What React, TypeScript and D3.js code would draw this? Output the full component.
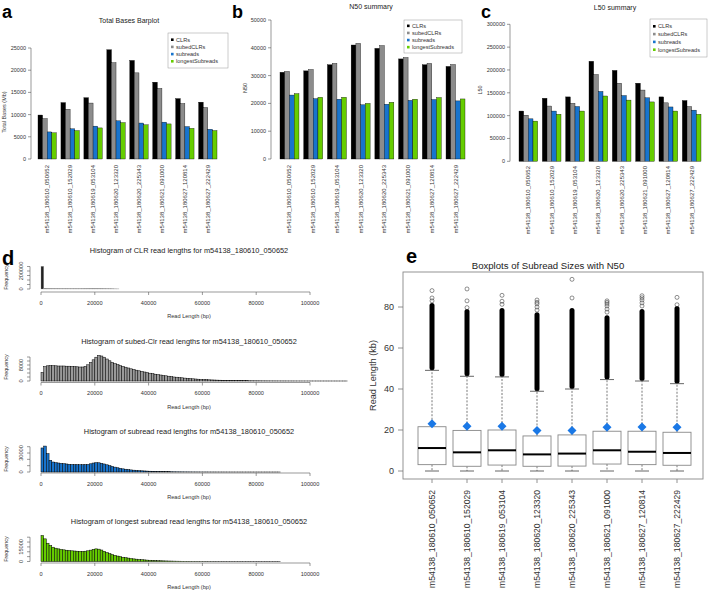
import React from "react";
import * as d3 from "d3";

const FONT = "'Liberation Sans', Arial, Helvetica, sans-serif";

const samples = [
  "m54138_180610_050652", "m54138_180610_152029", "m54138_180619_053104", "m54138_180620_123320",
  "m54138_180620_225343", "m54138_180621_091000", "m54138_180627_120814", "m54138_180627_222429",
];
const seriesNames = ["CLRs", "subedCLRs", "subreads", "longestSubreads"];
const seriesColors = ["#000000", "#8c8c8c", "#1874CD", "#66CD00"];

// Panel a: total bases (Mb)
const totalCLR = [9900, 12700, 13800, 24600, 22200, 17300, 13600, 12800];
const totalSubedCLR = [9100, 11200, 12600, 21700, 19400, 15900, 12500, 11600];
const totalSubreads = [6100, 6800, 7400, 8600, 8100, 8300, 7300, 6700];
const totalLongest = [5900, 6400, 7000, 8200, 7700, 7900, 6900, 6400];
const totalTicks = [0, 5000, 10000, 15000, 20000, 25000];

// Panel b: N50
const n50CLR = [31200, 31700, 33900, 41000, 39800, 36000, 33900, 33300];
const n50SubedCLR = [31500, 32200, 34400, 41600, 40800, 36500, 34400, 34000];
const n50Subreads = [23000, 21700, 21500, 19500, 19700, 21100, 21400, 20900];
const n50Longest = [23500, 22200, 22200, 20000, 20400, 21500, 22100, 21600];
const n50Ticks = [0, 10000, 20000, 30000, 40000, 50000];

// Panel c: L50
const l50CLR = [110000, 138000, 141000, 219000, 199000, 171000, 141000, 133000];
const l50SubedCLR = [101000, 121000, 127000, 190000, 171000, 156000, 128000, 120000];
const l50Subreads = [93000, 110000, 120000, 153000, 144000, 139000, 119000, 112000];
const l50Longest = [88000, 103000, 110000, 143000, 134000, 130000, 110000, 103000];
const l50Ticks = [0, 50000, 100000, 150000, 200000, 250000, 300000];

// Panel d: histograms (1000 bp bins)
const histClr = [252000, 6000, 5000, 4500, 4200, 4000, 3800, 3700, 3600, 3500, 3400, 3300, 3300, 3200, 3300, 3500, 3900, 4300, 4600, 4800, 4700, 4400, 4000, 3500, 3000, 2500, 2000, 1500, 1000];
const histSubedClr = [4300, 7200, 7600, 7700, 7700, 7600, 7500, 7500, 7500, 7400, 7400, 7300, 7200, 7100, 7000, 7000, 7300, 8100, 9300, 10600, 11900, 12800, 12500, 11900, 11000, 10100, 9300, 8700, 8200, 7700, 7300, 6900, 6500, 6100, 5800, 5400, 5100, 4800, 4500, 4200, 3900, 3700, 3400, 3200, 3000, 2800, 2600, 2400, 2200, 2000, 1900, 1700, 1600, 1450, 1300, 1200, 1100, 1000, 900, 820, 740, 670, 600, 540, 490, 440, 400, 360, 320, 290, 260, 230, 210, 190, 170, 150, 135, 120, 110, 100, 90, 80, 70, 62, 55, 50, 45, 40, 36, 32, 29, 26, 23, 21, 19, 17, 15, 13, 12, 11, 10, 9, 8, 7, 6, 6, 5, 5, 4, 4, 3, 3, 2, 2];
const histSubreads = [38000, 41000, 29000, 18500, 15800, 14700, 14200, 13700, 13200, 12700, 12200, 11900, 11700, 11600, 11500, 11500, 11600, 12000, 13000, 14200, 14800, 14600, 13800, 12700, 11400, 10000, 8800, 7700, 6700, 5800, 5000, 4400, 3800, 3300, 2900, 2500, 2200, 1900, 1650, 1450, 1250, 1100, 950, 820, 700, 600, 520, 450, 390, 340, 290, 250, 220, 190, 165, 145, 125, 110, 95, 82, 72, 62, 54, 47, 41, 36, 31, 27, 23, 20, 17, 15, 13, 11, 10, 9, 8, 7, 6, 5, 4, 4, 3, 3, 2, 2, 2, 1, 1];
const histLongest = [26700, 23300, 18800, 16400, 14700, 13700, 13000, 12400, 12000, 11600, 11300, 11000, 10800, 10600, 10500, 10400, 10600, 11000, 11700, 12500, 13000, 12700, 11800, 10500, 9200, 8100, 7100, 6300, 5600, 5000, 4400, 3900, 3500, 3100, 2700, 2400, 2100, 1850, 1650, 1450, 1300, 1150, 1000, 880, 770, 670, 590, 510, 450, 390, 340, 300, 260, 225, 195, 170, 150, 130, 112, 97, 84, 73, 63, 55, 48, 41, 36, 31, 27, 23, 20, 17, 15, 13, 11, 10, 8, 7, 6, 5, 5, 4, 3, 3, 2, 2, 2, 1, 1];
const histXTicks = [0, 20000, 40000, 60000, 80000, 100000];

// Panel e: boxplots (kb)
const boxQ1 = [3.1, 2.3, 2.9, 2.3, 2.4, 3.4, 3.1, 2.8];
const boxMedian = [11.2, 9.1, 10.1, 8.1, 8.5, 10.1, 9.4, 8.8];
const boxQ3 = [21.6, 19.8, 20.0, 17.1, 17.6, 19.4, 19.4, 18.9];
const boxWhiskerHi = [49.1, 46.2, 45.9, 38.9, 40.0, 44.6, 43.9, 42.6];
const boxWhiskerLo = [0, 0, 0, 0, 0, 0, 0, 0];
const boxOutlierTop = [82, 79, 79.5, 77.5, 79.5, 76, 79, 80.5];
const boxSparseOutliers = [
  [83, 84.4, 88],
  [79.7, 83, 88.8],
  [81.3, 82.8, 85.7],
  [78.5, 80, 81.5, 82.3, 83.4],
  [84.4, 93.5],
  [77.5, 79, 80.5, 81.5, 82.3, 83],
  [80.5, 82, 83.4, 84.5, 85.5],
  [81.1, 84.7],
];
const boxN50 = [23.1, 21.8, 21.8, 19.7, 19.8, 21.3, 21.5, 21.3];
const boxTicks = [0, 20, 40, 60, 80];

type BarPanelProps = {
  series: number[][];
  ticks: number[];
  x0: number; x1: number;
  yBottom: number; yTop: number;
  axisX: number;
  title: string; titleX: number; titleY: number;
  ylab: string; ylabX: number; ylabY: number;
  legendX: number; legendY: number; legendW: number; legendH: number; legendStep: number;
  labelTop: number;
};

function BarPanel(p: BarPanelProps) {
  const xg = d3.scaleBand<string>().domain(samples).range([p.x0, p.x1]).paddingInner(0.2).paddingOuter(0);
  const xs = d3.scaleBand<string>().domain(seriesNames).range([0, xg.bandwidth()]).padding(0);
  const y = d3.scaleLinear().domain([0, p.ticks[p.ticks.length - 1]]).range([p.yBottom, p.yTop]);
  return (
    <g>
      <text x={p.titleX} y={p.titleY} fontSize={7} textAnchor="middle" dominantBaseline="central" fill="#222">{p.title}</text>
      {samples.map((s, i) => (
        <g key={s}>
          {seriesNames.map((n, j) => (
            <rect key={n} x={xg(s)! + xs(n)!} width={xs.bandwidth()} y={y(p.series[j][i])}
              height={y(0) - y(p.series[j][i])} fill={seriesColors[j]} stroke="#000" strokeWidth={0.35} />
          ))}
          <text transform={`translate(${xg(s)! + xg.bandwidth() / 2},${p.labelTop}) rotate(-90)`}
            fontSize={6} textAnchor="end" dominantBaseline="central" fill="#333">{s}</text>
        </g>
      ))}
      <line x1={p.axisX} x2={p.axisX} y1={y(0)} y2={y(p.ticks[p.ticks.length - 1])} stroke="#555" strokeWidth={0.6} />
      {p.ticks.map((t) => (
        <g key={t}>
          <line x1={p.axisX - 3} x2={p.axisX} y1={y(t)} y2={y(t)} stroke="#555" strokeWidth={0.6} />
          <text x={p.axisX - 5} y={y(t)} fontSize={5.5} textAnchor="end" dominantBaseline="central" fill="#333">{t}</text>
        </g>
      ))}
      <text transform={`translate(${p.ylabX},${p.ylabY}) rotate(-90)`} fontSize={5.5} textAnchor="middle" dominantBaseline="central" fill="#333">{p.ylab}</text>
      <rect x={p.legendX} y={p.legendY} width={p.legendW} height={p.legendH} fill="#fff" stroke="#999" strokeWidth={0.5} />
      {seriesNames.map((n, j) => {
        const cy = p.legendY + p.legendH / 2 + (j - 1.5) * p.legendStep;
        return (
          <g key={n}>
            <rect x={p.legendX + 3} y={cy - 1.3} width={2.6} height={2.6} fill={seriesColors[j]} />
            <text x={p.legendX + 8} y={cy} fontSize={5.6} dominantBaseline="central" fill="#333">{n}</text>
          </g>
        );
      })}
    </g>
  );
}

type HistProps = {
  data: number[];
  fill: string;
  title: string; titleY: number;
  baseline: number; yMax: number; yTopPx: number;
  yTicks: number[]; yLabels: number[];
  axisY: number; tickLabelY: number; xlabY: number; freqY: number;
  stroke: string; strokeWidth: number;
};

function Hist(p: HistProps) {
  const x = d3.scaleLinear().domain([0, 100000]).range([41, 310]);
  const y = d3.scaleLinear().domain([0, p.yMax]).range([p.baseline, p.yTopPx]);
  const bw = 1000;
  return (
    <g>
      <text x={189} y={p.titleY} fontSize={7.4} textAnchor="middle" dominantBaseline="central" fill="#222">{p.title}</text>
      {p.data.map((v, i) => (
        <rect key={i} x={x(i * bw)} width={x(bw) - x(0)} y={y(v)} height={Math.max(0, y(0) - y(v))}
          fill={p.fill} stroke={p.stroke} strokeWidth={p.strokeWidth} />
      ))}
      <line x1={x(0)} x2={x(100000)} y1={p.axisY} y2={p.axisY} stroke="#555" strokeWidth={0.6} />
      {histXTicks.map((t) => (
        <g key={t}>
          <line x1={x(t)} x2={x(t)} y1={p.axisY} y2={p.axisY + 3} stroke="#555" strokeWidth={0.6} />
          <text x={x(t)} y={p.tickLabelY} fontSize={5.6} textAnchor="middle" dominantBaseline="central" fill="#333">{t}</text>
        </g>
      ))}
      <text x={189} y={p.xlabY} fontSize={5.6} textAnchor="middle" dominantBaseline="central" fill="#333">Read Length (bp)</text>
      <line x1={30} x2={30} y1={y(0)} y2={y(p.yTicks[p.yTicks.length - 1])} stroke="#555" strokeWidth={0.6} />
      {p.yTicks.map((t) => (
        <line key={t} x1={27} x2={30} y1={y(t)} y2={y(t)} stroke="#555" strokeWidth={0.6} />
      ))}
      {p.yLabels.map((t) => (
        <text key={t} transform={`translate(21,${y(t)}) rotate(-90)`} fontSize={5.6} textAnchor="middle" dominantBaseline="central" fill="#333">{t}</text>
      ))}
      <text transform={`translate(6,${p.freqY}) rotate(-90)`} fontSize={5.4} textAnchor="middle" dominantBaseline="central" fill="#333">Frequency</text>
    </g>
  );
}

function BoxPanel() {
  const x = d3.scalePoint<string>().domain(samples).range([432, 677]);
  const y = d3.scaleLinear().domain([0, 80]).range([471, 307]);
  const bw = 28;
  const frame = { x0: 403, x1: 703, y0: 272, y1: 479 };
  return (
    <g>
      <text x={548} y={265} fontSize={9.6} textAnchor="middle" dominantBaseline="central" fill="#222">Boxplots of Subread Sizes with N50</text>
      {samples.map((s, i) => {
        const cx = x(s)!;
        return (
          <g key={s}>
            <rect x={cx - 2.5} y={y(boxOutlierTop[i])} width={5} height={y(boxWhiskerHi[i]) - y(boxOutlierTop[i])} rx={2.5} fill="#000" />
            {boxSparseOutliers[i].map((v, k) => (
              <circle key={k} cx={cx} cy={y(v)} r={2} fill="none" stroke="#444" strokeWidth={0.6} />
            ))}
            <line x1={cx} x2={cx} y1={y(boxQ3[i])} y2={y(boxWhiskerHi[i])} stroke="#555" strokeWidth={0.8} strokeDasharray="2,1.5" />
            <line x1={cx} x2={cx} y1={y(boxQ1[i])} y2={y(boxWhiskerLo[i])} stroke="#555" strokeWidth={0.8} strokeDasharray="2,1.5" />
            <line x1={cx - 7} x2={cx + 7} y1={y(boxWhiskerHi[i])} y2={y(boxWhiskerHi[i])} stroke="#555" strokeWidth={0.9} />
            <line x1={cx - 7} x2={cx + 7} y1={y(boxWhiskerLo[i])} y2={y(boxWhiskerLo[i])} stroke="#555" strokeWidth={0.9} />
            <rect x={cx - bw / 2} y={y(boxQ3[i])} width={bw} height={y(boxQ1[i]) - y(boxQ3[i])} fill="#fff" stroke="#888" strokeWidth={0.9} />
            <line x1={cx - bw / 2} x2={cx + bw / 2} y1={y(boxMedian[i])} y2={y(boxMedian[i])} stroke="#000" strokeWidth={2} />
            <path d={`M${cx},${y(boxN50[i]) - 4.5}L${cx + 4.5},${y(boxN50[i])}L${cx},${y(boxN50[i]) + 4.5}L${cx - 4.5},${y(boxN50[i])}Z`} fill="#1a78e6" />
            <line x1={cx} x2={cx} y1={frame.y1} y2={frame.y1 + 4} stroke="#777" strokeWidth={0.8} />
            <text transform={`translate(${cx},490) rotate(-90)`} fontSize={8.6} textAnchor="end" dominantBaseline="central" fill="#333">{s}</text>
          </g>
        );
      })}
      <rect x={frame.x0} y={frame.y0} width={frame.x1 - frame.x0} height={frame.y1 - frame.y0} fill="none" stroke="#888" strokeWidth={0.9} />
      {boxTicks.map((t) => (
        <g key={t}>
          <line x1={frame.x0 - 5} x2={frame.x0} y1={y(t)} y2={y(t)} stroke="#777" strokeWidth={0.8} />
          <text x={394} y={y(t)} fontSize={9} textAnchor="end" dominantBaseline="central" fill="#333">{t}</text>
        </g>
      ))}
      <text transform={`translate(373,${(frame.y0 + frame.y1) / 2}) rotate(-90)`} fontSize={9.2} textAnchor="middle" dominantBaseline="central" fill="#333">Read Length (kb)</text>
    </g>
  );
}

export default function App() {
  return (
    <svg width={708} height={590} viewBox="0 0 708 590" style={{ position: "absolute", left: 0, top: 0, background: "#fff" }} fontFamily={FONT}>
      <rect x={0} y={0} width={708} height={590} fill="#fff" />
      <BarPanel series={[totalCLR, totalSubedCLR, totalSubreads, totalLongest]} ticks={totalTicks}
        x0={38} x1={217} yBottom={159} yTop={48} axisX={31}
        title="Total Bases Barplot" titleX={129} titleY={20}
        ylab="Total Bases (Mb)" ylabX={4} ylabY={112}
        legendX={168} legendY={33} legendW={60} legendH={35} legendStep={7.2} labelTop={165} />
      <BarPanel series={[n50CLR, n50SubedCLR, n50Subreads, n50Longest]} ticks={n50Ticks}
        x0={280} x1={465} yBottom={159} yTop={20} axisX={271}
        title="N50 summary" titleX={371} titleY={6}
        ylab="N50" ylabX={245} ylabY={88}
        legendX={404} legendY={20} legendW={58} legendH={33} legendStep={7.1} labelTop={165} />
      <BarPanel series={[l50CLR, l50SubedCLR, l50Subreads, l50Longest]} ticks={l50Ticks}
        x0={519} x1={701} yBottom={161.3} yTop={24.3} axisX={510}
        title="L50 summary" titleX={615} titleY={7.5}
        ylab="L50" ylabX={480} ylabY={90}
        legendX={650} legendY={19} legendW={57} legendH={38} legendStep={7.8} labelTop={166} />

      <Hist data={histClr} fill="#222" stroke="#999" strokeWidth={0.3}
        title="Histogram of CLR read lengths for m54138_180610_050652" titleY={250.5}
        baseline={289} yMax={250000} yTopPx={266.5}
        yTicks={[0, 50000, 100000, 150000, 200000, 250000]} yLabels={[0, 200000]}
        axisY={292} tickLabelY={303} xlabY={316} freqY={277} />
      <Hist data={histSubedClr} fill="#9a9a9a" stroke="#000" strokeWidth={0.5}
        title="Histogram of subed-Clr read lengths for m54138_180610_050652" titleY={341}
        baseline={381} yMax={12000} yTopPx={357}
        yTicks={[0, 2000, 4000, 6000, 8000, 10000, 12000]} yLabels={[0, 8000]}
        axisY={382.5} tickLabelY={393} xlabY={407} freqY={367} />
      <Hist data={histSubreads} fill="#1874CD" stroke="#000" strokeWidth={0.5}
        title="Histogram of subread read lengths for m54138_180610_050652" titleY={431}
        baseline={472} yMax={40000} yTopPx={446.7}
        yTicks={[0, 10000, 20000, 30000, 40000]} yLabels={[0, 30000]}
        axisY={473} tickLabelY={483.5} xlabY={497} freqY={459} />
      <Hist data={histLongest} fill="#66CD00" stroke="#000" strokeWidth={0.5}
        title="Histogram of longest subread read lengths for m54138_180610_050652" titleY={521}
        baseline={561.5} yMax={25000} yTopPx={537.2}
        yTicks={[0, 5000, 10000, 15000, 20000, 25000]} yLabels={[0, 15000]}
        axisY={563} tickLabelY={573.5} xlabY={587} freqY={549} />

      <BoxPanel />

      <text x={2} y={17.5} fontSize={18} fontWeight="bold" fill="#000">a</text>
      <text x={232} y={17.5} fontSize={18} fontWeight="bold" fill="#000">b</text>
      <text x={481} y={18} fontSize={18} fontWeight="bold" fill="#000">c</text>
      <text x={2} y={265} fontSize={20} fontWeight="bold" fill="#000">d</text>
      <text x={406} y={263} fontSize={20} fontWeight="bold" fill="#000">e</text>
    </svg>
  );
}
